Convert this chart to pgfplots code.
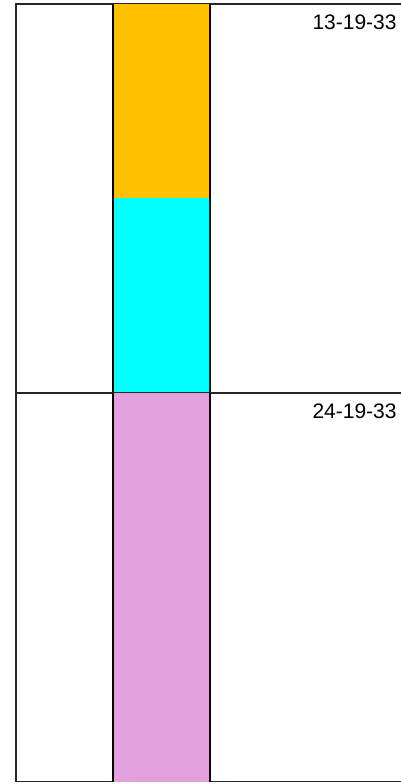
\documentclass[border=0pt]{standalone}
\usepackage{fontspec}
\setmainfont{Liberation Sans}
\usepackage{pgfplots}
\pgfplotsset{compat=1.18}
\definecolor{cOrange}{HTML}{FFC000}
\definecolor{cCyan}{HTML}{00FFFF}
\definecolor{cPink}{HTML}{E3A0DC}
\begin{document}
\begin{tikzpicture}
\useasboundingbox (0,0) rectangle (200.5pt,392pt);
\pgfplotsset{
  panel/.style={
    scale only axis, width=194pt, height=194.4pt,
    xmin=0, xmax=4, ymin=0, ymax=1,
    xtick=\empty, ytick=\empty,
    axis line style={line width=0.9pt, black!85},
    clip=true,
  }
}
% top panel
\begin{axis}[panel, at={(8pt,195.65pt)}, anchor=south west]
\addplot[ybar, bar width=1, bar shift=0pt, fill=cOrange, draw=none] coordinates {(1.5,1)};
\addplot[ybar, bar width=1, bar shift=0pt, fill=cCyan, draw=none] coordinates {(1.5,0.5)};
\addplot[sharp plot, black, line width=0.8pt, mark=none] coordinates {(1,0) (1,1)};
\addplot[sharp plot, black, line width=0.8pt, mark=none] coordinates {(2,0) (2,1)};
\node[anchor=north east, inner sep=0pt, font=\fontsize{10.5pt}{12pt}\selectfont] at ([yshift=-5.5pt]rel axis cs:0.982,1) {13-19-33};
\end{axis}
% bottom panel
\begin{axis}[panel, at={(8pt,1.25pt)}, anchor=south west]
\addplot[ybar, bar width=1, bar shift=0pt, fill=cPink, draw=none] coordinates {(1.5,1)};
\addplot[sharp plot, black, line width=0.8pt, mark=none] coordinates {(1,0) (1,1)};
\addplot[sharp plot, black, line width=0.8pt, mark=none] coordinates {(2,0) (2,1)};
\node[anchor=north east, inner sep=0pt, font=\fontsize{10.5pt}{12pt}\selectfont] at ([yshift=-5.5pt]rel axis cs:0.982,1) {24-19-33};
\end{axis}
\end{tikzpicture}
\end{document}
